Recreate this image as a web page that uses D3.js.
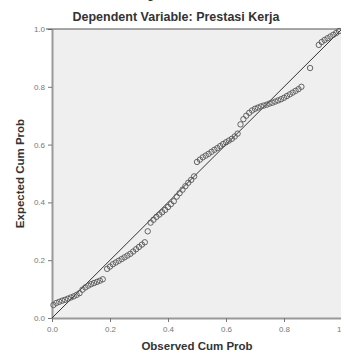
<!DOCTYPE html>
<html>
<head>
<meta charset="utf-8">
<script src="https://cdn.jsdelivr.net/npm/d3@7"></script>
<style>
  body { margin: 0; background: #fff; }
  #chart { width: 341px; height: 354px; }
  text { font-family: "Liberation Sans", Arial, sans-serif; }
</style>
</head>
<body>
<div id="chart"></div>
<script>
// Observed cumulative probability (x) and expected cumulative probability (y)
const observed = [
  0.005, 0.015, 0.025, 0.035, 0.045, 0.055, 0.065, 0.075, 0.085, 0.095,
  0.105, 0.115, 0.125, 0.135, 0.145, 0.155, 0.165, 0.175,
  0.19, 0.20, 0.21, 0.22, 0.23, 0.24, 0.25, 0.26, 0.27, 0.28, 0.29, 0.30, 0.31, 0.32,
  0.33, 0.34, 0.35, 0.36, 0.37, 0.38, 0.39, 0.40, 0.41, 0.42,
  0.43, 0.44, 0.45, 0.46, 0.47, 0.48, 0.49,
  0.50, 0.51, 0.52, 0.53, 0.54, 0.55, 0.56, 0.57, 0.58, 0.59, 0.60, 0.61, 0.62, 0.63, 0.64,
  0.65, 0.66, 0.67, 0.68, 0.69, 0.70, 0.71, 0.72, 0.73,
  0.74, 0.75, 0.76, 0.77, 0.78, 0.79, 0.80, 0.81, 0.82, 0.83, 0.84, 0.85, 0.86,
  0.89, 0.92, 0.93, 0.94, 0.95, 0.96, 0.97, 0.98, 0.99
];
const expected = [
  0.045, 0.052, 0.056, 0.060, 0.063, 0.067, 0.071, 0.075, 0.080, 0.086,
  0.098, 0.106, 0.112, 0.117, 0.121, 0.125, 0.129, 0.134,
  0.170, 0.178, 0.186, 0.192, 0.198, 0.204, 0.210, 0.216, 0.222, 0.230, 0.238, 0.246, 0.254, 0.262,
  0.300, 0.330, 0.340, 0.350, 0.358, 0.366, 0.374, 0.384, 0.394, 0.404,
  0.420, 0.432, 0.444, 0.456, 0.468, 0.478, 0.490,
  0.540, 0.548, 0.556, 0.562, 0.568, 0.575, 0.582, 0.588, 0.595, 0.602, 0.608, 0.614, 0.620, 0.628, 0.638,
  0.670, 0.688, 0.700, 0.710, 0.718, 0.724, 0.728, 0.732, 0.735,
  0.738, 0.742, 0.745, 0.749, 0.753, 0.757, 0.762, 0.768, 0.774, 0.780, 0.786, 0.792, 0.800,
  0.865, 0.945, 0.955, 0.962, 0.968, 0.974, 0.980, 0.986, 0.993
];
const tickValues = [0, 0.2, 0.4, 0.6, 0.8, 1.0];
const diagonal = [0, 1];

const titleTop = "Normal P-P Plot of Regression Standardized Residual";
const title = "Dependent Variable: Prestasi Kerja";
const xTitle = "Observed Cum Prob";
const yTitle = "Expected Cum Prob";

const width = 341, height = 354;
const margin = { top: 29, right: -1, bottom: 36, left: 52 };

const svg = d3.select("#chart")
  .append("svg")
  .attr("width", width)
  .attr("height", height);

const x = d3.scaleLinear().domain([0, 1]).range([margin.left, width - margin.right]);
const y = d3.scaleLinear().domain([0, 1]).range([height - margin.bottom, margin.top]);

// Plot area background
svg.append("rect")
  .attr("x", x(0))
  .attr("y", y(1))
  .attr("width", x(1) - x(0))
  .attr("height", y(0) - y(1))
  .style("fill", "#efefef");

// Titles (first line sits above the picture's top edge, as in the original)
svg.append("text")
  .attr("x", 176).attr("y", -2)
  .attr("text-anchor", "middle")
  .style("font-size", "12px").style("font-weight", "bold").style("fill", "#333")
  .text(titleTop);

svg.append("text")
  .attr("x", 176).attr("y", 21)
  .attr("text-anchor", "middle")
  .style("font-size", "12.5px").style("font-weight", "bold").style("fill", "#333")
  .text(title);

// Axes
const fmt = d3.format(".1f");

const xAxis = svg.append("g")
  .attr("transform", `translate(0,${y(0)})`)
  .call(d3.axisBottom(x).tickValues(tickValues).tickFormat(fmt).tickSize(4).tickSizeOuter(0));

const yAxis = svg.append("g")
  .attr("transform", `translate(${x(0)},0)`)
  .call(d3.axisLeft(y).tickValues(tickValues).tickFormat(fmt).tickSize(4).tickSizeOuter(0));

[xAxis, yAxis].forEach(g => {
  g.select(".domain").style("stroke", "#999").style("stroke-width", 2);
  g.selectAll(".tick line").style("stroke", "#777");
  g.selectAll(".tick text")
    .style("font-family", "'Liberation Sans', Arial, sans-serif")
    .style("font-size", "8px")
    .style("fill", "#777");
});
xAxis.selectAll(".tick text").attr("dy", "0.9em");

// Top frame line
svg.append("line")
  .attr("x1", x(0) - 6).attr("x2", x(1))
  .attr("y1", y(1)).attr("y2", y(1))
  .style("stroke", "#555")
  .style("stroke-width", 1.2);

// Reference diagonal
svg.append("line")
  .attr("x1", x(diagonal[0])).attr("y1", y(diagonal[0]))
  .attr("x2", x(diagonal[1])).attr("y2", y(diagonal[1]))
  .style("stroke", "#333")
  .style("stroke-width", 1);

// Points
svg.append("g")
  .selectAll("circle")
  .data(observed.map((o, i) => ({ o: o, e: expected[i] })))
  .join("circle")
  .attr("cx", d => x(d.o))
  .attr("cy", d => y(d.e))
  .attr("r", 2.7)
  .style("fill", "none")
  .style("stroke", "#555")
  .style("stroke-width", 0.9);

// Axis titles
svg.append("text")
  .attr("x", (x(0) + x(1)) / 2)
  .attr("y", 350)
  .attr("text-anchor", "middle")
  .style("font-size", "11.5px").style("font-weight", "bold").style("fill", "#333")
  .text(xTitle);

svg.append("text")
  .attr("transform", `translate(24,${(y(0) + y(1)) / 2}) rotate(-90)`)
  .attr("text-anchor", "middle")
  .style("font-size", "11.5px").style("font-weight", "bold").style("fill", "#333")
  .text(yTitle);
</script>
</body>
</html>
